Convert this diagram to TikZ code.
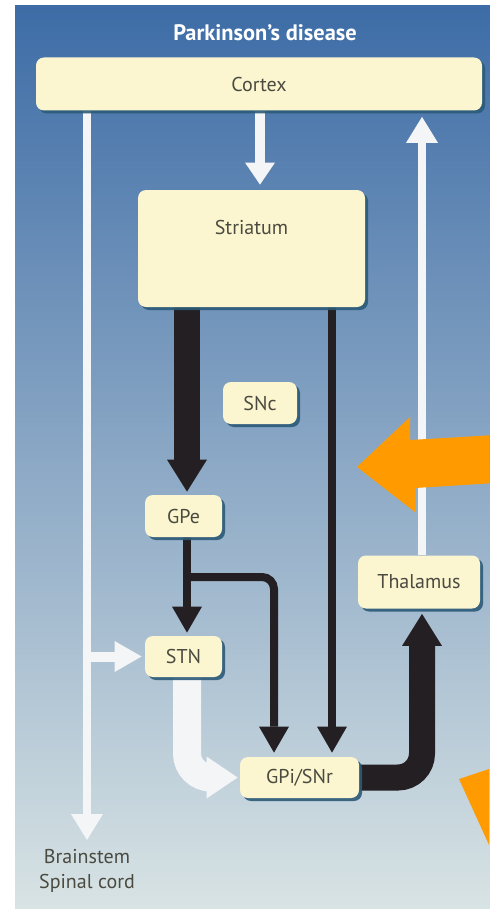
\documentclass[tikz,border=0pt]{standalone}
\usepackage{fontspec}
\setmainfont{PT Sans}
\usetikzlibrary{arrows.meta, positioning, shadows, backgrounds}

\definecolor{panelTop}{HTML}{3D6CA6}
\definecolor{panelMid}{HTML}{7E9DBF}
\definecolor{panelBot}{HTML}{D8E3E4}
\definecolor{boxFill}{HTML}{FBF6D0}
\definecolor{boxShadow}{HTML}{2C5A78}
\definecolor{nucText}{HTML}{4A4A40}
\definecolor{inhib}{HTML}{231F22}
\definecolor{excit}{HTML}{F3F5F7}
\definecolor{hilite}{HTML}{FF9A00}

\begin{document}
\begin{tikzpicture}[x=0.5pt, y=-0.5pt,
  box/.style={fill=boxFill, rounded corners=4pt, align=center, inner sep=0pt,
              text=nucText, drop shadow={shadow xshift=1.5pt, shadow yshift=-1.5pt,
              fill=boxShadow, opacity=.9}},
  blkfat/.style={inhib, line width=13pt, -{Triangle[width=20pt, length=16pt, line width=0pt]}},
  blkthin/.style={inhib, line width=4pt, -{Triangle[width=15pt, length=13pt, line width=0pt]}},
  whtfat/.style={excit, line width=14pt, -{Triangle[width=21pt, length=15.5pt, line width=0pt]}},
  whtmid/.style={excit, line width=5pt, -{Triangle[width=15.5pt, length=13.5pt, line width=0pt]}},
  whtthin/.style={excit, line width=4pt, -{Triangle[width=16pt, length=13pt, line width=0pt]}}]
  \useasboundingbox (0,0) rectangle (489,920);
  \clip (0,0) rectangle (489,920);

  % nuclei
  \node[box, minimum width=223pt, minimum height=26.5pt] (cortex) at (259,84) {Cortex};
  \node[box, minimum width=113.5pt, minimum height=58.5pt,
        label={[anchor=north, yshift=-12pt, text=nucText]north:Striatum}] (striatum) at (251.5,248.5) {};
  \node[box, minimum width=37pt, minimum height=21pt] (snc) at (260,403) {SNc};
  \node[box, minimum width=38.5pt, minimum height=21pt] (gpe) at (183.5,516) {GPe};
  \node[box, minimum width=38.5pt, minimum height=20.5pt] (stn) at (183.5,656.5) {STN};
  \node[box, minimum width=59.5pt, minimum height=20.5pt] (gpi) at (299.5,777.5) {GPi/SNr};
  \node[box, minimum width=61pt, minimum height=26.5pt] (thal) at (419,582) {Thalamus};
  \node[font=\fontsize{11.2}{13}\selectfont\bfseries, text=white] (title) at (265,33) {Parkinson's disease};

  % columns of the pathways
  \coordinate (colL) at (87,0);
  \coordinate (colC) at (260,0);
  \coordinate (colR) at (422,0);
  \coordinate (colD) at (187,0);
  \coordinate (colI) at (274,0);
  \coordinate (colS) at (332,0);
  \coordinate (fork) at (187,577);
  \coordinate (bstem) at (87,840);
  \node[below=1pt of bstem, align=center, text=nucText,
        font=\fontsize{10}{12.5}\selectfont] (out) {Brainstem\\Spinal cord};

  \begin{scope}[on background layer]
    \fill[white] (0,0) rectangle (489,920);
    \shade[top color=panelTop, middle color=panelMid, bottom color=panelBot]
      (15,6) rectangle (495,908);
    % excitatory (white) pathways
    \draw[whtthin] (cortex.south -| colL) -- (bstem);
    \draw[whtmid, shorten >=1.5pt] (colL |- stn) -- (stn.west);
    \draw[whtthin, shorten >=3pt] (thal.north -| colR) -- (cortex.south -| colR);
    \draw[whtthin, line width=5pt, -{Triangle[width=15pt, length=11pt, line width=0pt]},
          shorten >=2.5pt] (cortex.south -| colC) -- (striatum.north -| colC);
    \draw[whtfat, rounded corners=12pt, shorten >=1pt]
      (stn.south -| colD) -- (colD |- gpi) -- (gpi.west);
    % inhibitory (black) pathways
    \draw[blkfat, shorten >=1.5pt] (striatum.south -| colD) -- (gpe.north -| colD);
    \draw[blkthin, shorten >=1.5pt] (gpe.south -| colD) -- (stn.north -| colD);
    \draw[blkthin, rounded corners=6pt, shorten >=2pt]
      (fork) -- (fork -| colI) -- (gpi.north -| colI);
    \draw[blkthin, shorten >=2pt] (striatum.south -| colS) -- (gpi.north -| colS);
    \draw[blkfat, rounded corners=12pt, shorten >=2.5pt]
      (gpi.east) -- (gpi -| colR) -- (thal.south -| colR);
  \end{scope}

  % orange marks on top
  \fill[hilite] (357,467) -- (410,417) -- (410,440) -- (495,435) -- (495,483)
    -- (415,488) -- (415,512) -- cycle;
  \fill[hilite] (459,779) -- (495,767) -- (495,858) -- cycle;
\end{tikzpicture}
\end{document}
